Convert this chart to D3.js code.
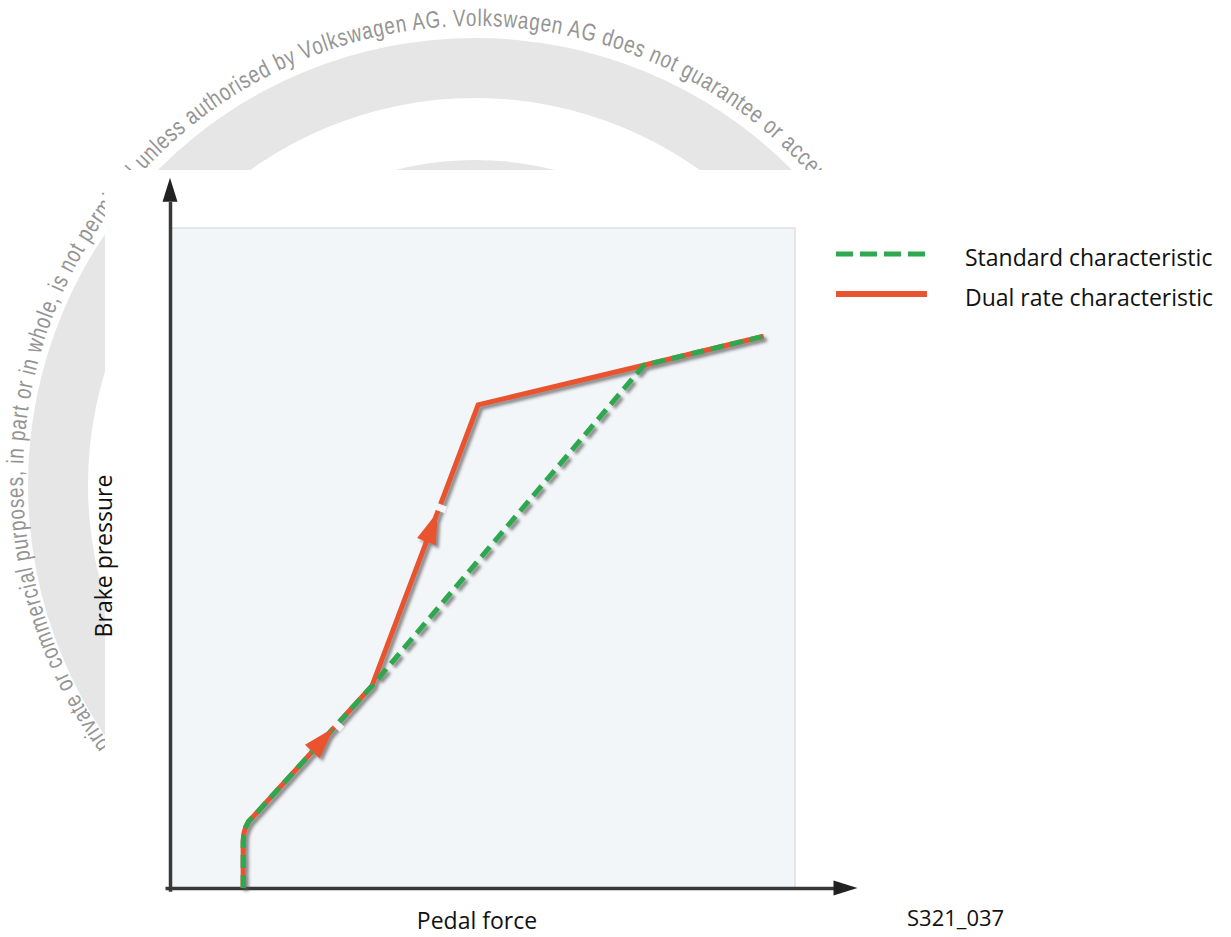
<!DOCTYPE html>
<html>
<head>
<meta charset="utf-8">
<script src="https://cdn.jsdelivr.net/npm/d3@7"></script>
<style>
  body { margin: 0; background: #fff; }
  svg { display: block; }
  .label { font-family: "Open Sans", "Noto Sans", sans-serif; fill: #111; }
</style>
</head>
<body>
<div id="chart"></div>
<script>
const width = 1231;
const height = 937;

// values, in % of plot width (x) and plot height (y)
const standardPts = [[11.7, 0], [11.7, 7.0], [11.8, 8.2], [12.1, 9.2], [12.6, 10.1], [13.3, 10.8], [32.3, 30.6], [75.8, 79.2], [95.0, 83.6]];
const dualRatePts = [[11.7, 0], [11.7, 7.0], [11.8, 8.2], [12.1, 9.2], [12.6, 10.1], [13.3, 10.8], [32.3, 30.6], [49.3, 73.2], [75.8, 79.2], [95.0, 83.6]];
// direction arrows sit on the dual rate line: segment index and fraction along it
const arrowSegs = [5, 6];
const arrowFracs = [0.68, 0.62];
const seriesNames = ["Standard characteristic", "Dual rate characteristic"];
const seriesColors = ["#2fa84f", "#e9532f"];
const xTitle = "Pedal force";
const yTitle = "Brake pressure";
const figCode = "S321_037";
const watermark = "private or commercial purposes, in part or in whole, is not permitted unless authorised by Volkswagen AG. Volkswagen AG does not guarantee or accept any liability with respect to the correctness of information in this document.";

const plotBg = "#f3f6f8";
const xAxisEnd = 110, yAxisEnd = 107.6;

let x = d3.scaleLinear().domain([0, 100]).range([170, 795]);
let y = d3.scaleLinear().domain([0, 100]).range([888, 228]);

let svg = d3.select("#chart").append("svg")
    .attr("width", width)
    .attr("height", height);

let defs = svg.append("defs");
defs.append("filter").attr("id", "shadow")
    .attr("x", "-20%").attr("y", "-20%").attr("width", "140%").attr("height", "140%")
  .append("feDropShadow")
    .attr("dx", 3).attr("dy", 3).attr("stdDeviation", 1.4)
    .attr("flood-color", "#555").attr("flood-opacity", 0.65);

// --- watermark behind the drawing
const ring = {cx: 475, cy: 485};
const wm = {cx: 475, cy: 478, r: 452};
let wmG = svg.append("g");
wmG.append("path")
    .attr("transform", "translate(" + ring.cx + "," + ring.cy + ")")
    .attr("d", d3.arc().innerRadius(387).outerRadius(447).startAngle(0).endAngle(2 * Math.PI)())
    .attr("fill", "#e6e6e6");
wmG.append("path")
    .attr("transform", "translate(" + ring.cx + "," + ring.cy + ")")
    .attr("d", d3.arc().innerRadius(262).outerRadius(325).startAngle(0).endAngle(2 * Math.PI)())
    .attr("fill", "#e6e6e6");

// narrow letters set one by one round the ring
const wmFont = '"Liberation Sans", Arial, sans-serif';
const wmSize = 24, wmSqueeze = 0.78;
let probe = wmG.append("text")
    .style("font-family", wmFont)
    .style("font-size", wmSize + "px")
    .text(watermark);
let adv = [];
for (let i = 0; i < watermark.length; i++) {
  adv.push(probe.node().getSubStringLength(i, 1) * wmSqueeze);
}
probe.remove();
// fit the spacing so "...or accep" ends where it does in the original
let prefixLen = watermark.indexOf("accep") + 5;
let prefixW = d3.sum(adv.slice(0, prefixLen));
let spacing = (1385 - prefixW) / prefixLen;
const a0 = 143.8 * Math.PI / 180;
let glyphs = [];
let s = 0;
for (let i = 0; i < watermark.length; i++) {
  let mid = s + adv[i] / 2;
  let th = a0 + mid / wm.r;
  glyphs.push({ch: watermark[i], x: wm.cx + wm.r * Math.cos(th), y: wm.cy + wm.r * Math.sin(th), rot: th * 180 / Math.PI + 90});
  s += adv[i] + spacing;
}
wmG.selectAll(".wm")
    .data(glyphs.filter(g => g.ch != " "))
    .enter()
    .append("text")
    .attr("class", "wm")
    .attr("transform", d => "translate(" + d.x + "," + d.y + ") rotate(" + d.rot + ") scale(" + wmSqueeze + ",1)")
    .attr("text-anchor", "middle")
    .style("font-family", wmFont)
    .style("font-size", wmSize + "px")
    .attr("fill", "#949494")
    .text(d => d.ch);

// white sheet of the figure on top of the watermark
svg.append("rect")
    .attr("x", 105).attr("y", 170)
    .attr("width", width - 105).attr("height", height - 170)
    .attr("fill", "#fff");

// plot area
svg.append("rect")
    .attr("x", x(0)).attr("y", y(100))
    .attr("width", x(100) - x(0)).attr("height", y(0) - y(100))
    .attr("fill", plotBg)
    .attr("stroke", "#dde0e2")
    .attr("stroke-width", 1.5);

// axes: plain domain lines plus arrow heads
let gX = svg.append("g")
    .attr("transform", "translate(0," + y(0) + ")")
    .call(d3.axisBottom(x.copy().domain([-0.8, xAxisEnd - 3.6]).range([x(-0.8), x(xAxisEnd - 3.6)])).tickValues([]).tickSizeOuter(0));
let gY = svg.append("g")
    .attr("transform", "translate(" + x(0) + ",0)")
    .call(d3.axisLeft(y.copy().domain([-0.5, yAxisEnd - 3.6]).range([y(-0.5), y(yAxisEnd - 3.6)])).tickValues([]).tickSizeOuter(0));
svg.selectAll(".domain").attr("stroke", "#383838").attr("stroke-width", 3.5);

svg.append("path")
    .attr("d", "M" + x(xAxisEnd) + "," + y(0) + "l-24,-7.5v15z")
    .attr("fill", "#222");
svg.append("path")
    .attr("d", "M" + x(0) + "," + y(yAxisEnd) + "l-7.5,24h15z")
    .attr("fill", "#222");

// curves
let line = d3.line().x(d => x(d[0])).y(d => y(d[1]));
let curves = svg.append("g").attr("filter", "url(#shadow)");

curves.append("path")
    .datum(dualRatePts)
    .attr("d", line)
    .attr("fill", "none")
    .attr("stroke", seriesColors[1])
    .attr("stroke-width", 5);

curves.append("path")
    .datum(standardPts)
    .attr("d", line)
    .attr("fill", "none")
    .attr("stroke", seriesColors[0])
    .attr("stroke-width", 5)
    .attr("stroke-dasharray", "13,7");

let arrows = arrowSegs.map((sg, i) => {
  let p = dualRatePts[sg], q = dualRatePts[sg + 1];
  let x0 = x(p[0]), y0 = y(p[1]), x1 = x(q[0]), y1 = y(q[1]);
  let t = arrowFracs[i];
  return {tx: x0 + (x1 - x0) * t, ty: y0 + (y1 - y0) * t, ang: Math.atan2(y1 - y0, x1 - x0) * 180 / Math.PI};
});

curves.selectAll(".arrowhead")
    .data(arrows)
    .enter()
    .append("path")
    .attr("class", "arrowhead")
    .attr("transform", d => "translate(" + d.tx + "," + d.ty + ") rotate(" + d.ang + ")")
    .attr("d", "M0,0L-32,-10L-32,10Z")
    .attr("fill", seriesColors[1]);

// small break in the line just past each arrow tip
svg.selectAll(".gap")
    .data(arrows)
    .enter()
    .append("path")
    .attr("class", "gap")
    .attr("transform", d => "translate(" + d.tx + "," + d.ty + ") rotate(" + d.ang + ")")
    .attr("d", "M1,0H8")
    .attr("stroke", plotBg)
    .attr("stroke-width", 14);

// legend
let legend = svg.selectAll(".legend")
    .data(seriesNames)
    .enter()
    .append("g")
    .attr("class", "legend")
    .attr("transform", (d, i) => "translate(836," + (254 + i * 40) + ")");
legend.append("line")
    .attr("x1", 0).attr("x2", 91)
    .attr("stroke", (d, i) => seriesColors[i])
    .attr("stroke-width", (d, i) => i == 0 ? 5 : 6)
    .attr("stroke-dasharray", (d, i) => i == 0 ? "17,7" : null);
legend.append("text")
    .attr("class", "label")
    .attr("x", 129).attr("y", 12)
    .style("font-size", "23px")
    .text(d => d);

// titles
svg.append("text")
    .attr("class", "label")
    .attr("x", 477).attr("y", 929)
    .attr("text-anchor", "middle")
    .style("font-size", "23px")
    .text(xTitle);
svg.append("text")
    .attr("class", "label")
    .attr("transform", "translate(112,556) rotate(-90)")
    .attr("text-anchor", "middle")
    .style("font-size", "23px")
    .text(yTitle);
svg.append("text")
    .attr("class", "label")
    .attr("x", 907).attr("y", 926)
    .style("font-size", "22px")
    .text(figCode);
</script>
</body>
</html>
